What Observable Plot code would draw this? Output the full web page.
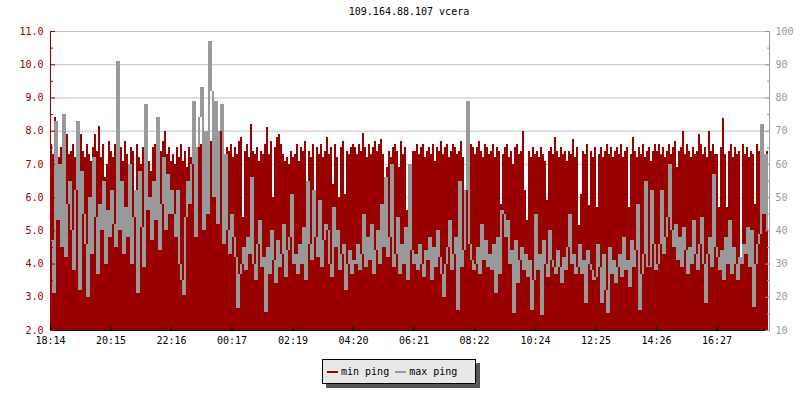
<!DOCTYPE html>
<html>
<head>
<meta charset="utf-8">
<script src="https://cdn.jsdelivr.net/npm/d3@7"></script>
<script src="https://cdn.jsdelivr.net/npm/@observablehq/plot@0.6"></script>
<style>
  body { margin: 0; background: #fff; font-family: "DejaVu Sans Mono", monospace; }
  #wrap { position: relative; width: 800px; height: 400px; overflow: hidden; }
  #title { position: absolute; left: 0; top: 0; width: 800px; height: 24px; line-height: 24px;
           padding-left: 18px; box-sizing: border-box; text-align: center; font-size: 10px; color: #000; }
  #chart { position: absolute; left: 0; top: 24px; }
  #legend { position: absolute; left: 322px; top: 359px; width: 152px; height: 23px;
            border: 1px solid #000; background: #e8e8e8; box-shadow: 4px 4px 0 #555;
            display: flex; align-items: center; font-size: 10px; color: #000; white-space: pre; }
  .sw { display: inline-block; width: 11px; height: 2px; }
</style>
</head>
<body>
<div id="wrap">
  <div id="title"></div>
  <div id="chart"></div>
  <div id="legend"></div>
</div>
<script>
const titleText = "109.164.88.107 vcera";
const seriesNames = ["min ping", "max ping"];
const seriesColors = ["#990000", "#999999"];

const startTime = "18:14";
const stepMinutes = 4;
const totalMinutes = 1438;

const xTickLabels = ["18:14","20:15","22:16","00:17","02:19","04:20","06:21","08:22","10:24","12:25","14:26","16:27"];
const leftTicks = [2, 3, 4, 5, 6, 7, 8, 9, 10, 11];
const leftHalfTicks = [2.5, 3.5, 4.5, 5.5, 6.5, 7.5, 8.5, 9.5, 10.5];
const rightTickLabels = [10, 20, 30, 40, 50, 60, 70, 80, 90, 100];

// min ping (left axis), one value per 4 minutes
const minPing = [
  7.6, 7.3, 8.4, 7.8, 7.2, 7.5, 6.3, 7.1, 7.9, 7.3, 7.4, 7.6, 7.2, 7.0, 7.5, 7.9, 7.4, 7.2, 7.6, 7.3, 7.1, 7.5, 7.9, 7.4, 8.15, 7.2, 7.6, 6.6, 7.0, 7.7, 7.4,
  7.2, 7.6, 7.3, 6.4, 7.5, 7.1, 7.7, 7.3, 6.9, 7.5, 7.4, 6.2, 7.6, 7.2, 7.0, 7.5, 7.3, 7.8, 7.1, 6.8, 7.5, 7.6, 7.2, 7.0, 7.4, 7.7, 8.0, 7.3, 7.5, 7.1,
  7.3, 7.0, 7.5, 7.2, 7.6, 7.1, 7.4, 6.9, 7.5, 7.2, 7.4, 7.6, 7.3, 8.1, 7.6, 7.0, 7.4, 7.2, 10.05, 7.7, 8.38, 7.3, 6.9, 7.5, 8.75, 7.4, 7.3, 7.5, 7.4, 7.6, 7.2,
  7.5, 7.3, 7.7, 7.8, 5.4, 7.4, 7.6, 7.2, 8.2, 7.4, 7.3, 7.5, 7.1, 7.4, 7.3, 7.6, 8.1, 7.3, 7.7, 6.0, 7.5, 7.8, 7.9, 7.6, 7.3, 7.1, 7.2, 7.0, 7.4, 7.2,
  7.3, 7.6, 7.1, 7.5, 7.4, 7.7, 6.5, 7.4, 7.2, 7.6, 6.0, 7.5, 7.3, 7.6, 7.2, 7.4, 7.8, 7.3, 7.5, 6.4, 7.6, 7.2, 6.0, 7.5, 7.7, 6.1, 7.4, 7.3, 7.5, 7.6,
  7.5, 7.3, 7.6, 7.4, 7.93, 7.5, 7.2, 7.6, 7.3, 7.5, 7.7, 7.4, 7.6, 7.75, 7.3, 6.15, 6.9, 7.4, 7.2, 7.5, 7.6, 7.4, 6.9, 7.7, 7.3, 7.5, 5.6, 5.3, 5.0, 7.4,
  7.4, 7.6, 7.3, 7.5, 7.6, 7.2, 7.4, 7.5, 7.3, 7.6, 7.1, 7.5, 7.4, 7.7, 7.3, 7.5, 7.6, 7.2, 7.4, 7.6, 7.5, 7.3, 7.4, 7.7, 7.2, 6.2, 8.08, 7.3, 7.6, 7.5,
  7.3, 7.5, 7.7, 7.4, 7.2, 7.6, 7.5, 7.3, 7.4, 7.6, 7.2, 7.5, 7.4, 5.8, 7.3, 7.5, 7.6, 7.2, 7.4, 7.0, 7.5, 7.6, 7.3, 7.4, 8.0, 6.2, 5.3, 7.4, 7.2, 7.5, 7.3,
  7.4, 7.2, 7.5, 7.3, 7.1, 5.9, 7.4, 7.5, 7.3, 7.8, 7.4, 7.2, 7.5, 7.3, 7.4, 7.1, 7.4, 7.3, 7.75, 7.2, 7.5, 5.15, 6.1, 7.4, 7.3, 7.6, 5.75, 7.4, 7.2, 7.5,
  5.7, 7.3, 7.5, 7.2, 7.4, 7.6, 7.3, 7.5, 7.2, 7.4, 7.5, 7.3, 7.6, 7.2, 7.4, 7.5, 5.7, 7.3, 7.8, 7.4, 7.2, 7.5, 7.3, 7.6, 7.2, 7.4, 7.5, 7.1, 7.4, 7.6,
  7.4, 7.6, 7.3, 7.5, 7.2, 7.4, 7.6, 7.3, 7.5, 7.7, 6.9, 7.4, 7.5, 7.99, 7.3, 7.6, 7.4, 7.2, 7.5, 7.3, 7.4, 7.9, 7.6, 7.3, 7.5, 7.2, 8.0, 7.4, 7.6, 7.3, 7.3,
  5.7, 7.5, 8.38, 7.3, 5.7, 7.4, 7.6, 7.2, 7.5, 7.3, 7.4, 4.0, 7.6, 7.3, 7.5, 7.2, 7.4, 7.3, 5.8, 7.6, 7.4, 7.2, 6.5, 7.3, 7.4
];

// max ping (right axis, ms), one value per 4 minutes
const maxPing = [
  37, 21, 73, 43, 60, 35, 75, 32, 48, 55, 40, 28, 52, 73, 22, 58, 45, 36, 20, 50, 33, 62, 44, 27, 48, 40, 55, 30, 46, 38, 52,
  42, 35, 91, 40, 55, 33, 47, 38, 60, 30, 44, 52, 21, 58, 41, 29, 78, 46, 50, 37, 55, 43, 74, 34, 48, 62, 40, 57, 45, 52,
  45, 38, 52, 30, 25, 20.5, 44, 55, 48, 60, 79, 38, 65, 74, 83, 40, 70, 45, 97, 82, 50, 79, 42, 70, 78, 36, 63, 40, 33, 45, 38,
  32, 16.6, 27, 30, 35, 28, 38, 33, 56, 30, 25, 36, 43, 29, 32, 15.5, 35, 27, 40, 31, 24, 37, 29, 33, 42, 26, 34, 38, 51, 30,
  33, 27, 36, 30, 41, 25, 55, 36, 31, 52, 38, 32, 49, 29, 37, 42, 40, 30, 26, 47, 35, 40, 28, 33, 36, 22, 30, 34, 27, 31,
  30, 36, 28, 33, 45, 29, 38, 31, 42, 27, 34, 40, 30, 48, 35, 56, 32, 38, 60, 29, 33, 44, 27, 36, 30, 41, 25, 60, 34, 30,
  33, 28, 36, 30, 26, 34, 31, 38, 25, 35, 29, 40, 32, 27, 20, 30, 35, 43, 28, 33, 38, 16, 55, 29, 34, 52, 79, 36, 31, 28,
  30, 35, 27, 42, 31, 37, 29, 33, 28, 36, 21, 38, 27, 46, 45, 38, 43, 30, 34, 15, 37, 24, 31, 35, 28, 33, 26, 31, 16, 25, 45,
  28, 33, 14.5, 37, 30, 26, 40, 31, 29, 27, 34, 29, 24, 32, 28, 35, 45, 30, 33, 27, 29, 36, 27, 31, 18, 34, 30, 28, 25, 26,
  36, 29, 18, 33, 22, 15, 35, 27, 31, 24, 29, 33, 26, 38, 28, 31, 23, 37, 29, 34, 48, 16, 27, 33, 55, 29, 29, 52, 36, 28,
  30, 36, 52, 33, 38, 44, 60, 40, 35, 42, 31, 38, 29, 41, 34, 27, 35, 30, 43, 33, 28, 36, 44, 30, 18, 33, 38, 29, 57, 35, 32,
  28, 34, 25, 38, 30, 43, 27, 35, 30, 25, 32, 30, 36, 33, 41, 29, 40, 17, 30, 36, 39, 72, 45, 63, 40
];

const red = seriesColors[0], gray = seriesColors[1];
const yMin = leftTicks[0], yMax = leftTicks[leftTicks.length - 1];
const rMin = rightTickLabels[0], rMax = rightTickLabels[rightTickLabels.length - 1];
const toLeft = v => yMin + (v - rMin) * (yMax - yMin) / (rMax - rMin);

const toMin = s => { const [h, m] = s.split(":").map(Number); return h * 60 + m; };
const m0 = toMin(startTime);
const xTickOffsets = xTickLabels.map(s => (toMin(s) - m0 + 1440) % 1440);

const n = Math.min(minPing.length, maxPing.length);
const minSpan = 0.035; // keep each gray column at least ~1px tall
const data = d3.range(n).map(i => {
  const cur = toLeft(maxPing[i]);
  const prev = i > 0 ? toLeft(maxPing[i - 1]) : cur;
  let lo = Math.min(prev, cur), hi = Math.max(prev, cur);
  if (hi - lo < minSpan) { lo = cur - minSpan / 2; hi = cur + minSpan / 2; }
  return { t0: i * stepMinutes, t1: (i + 1) * stepMinutes, min: minPing[i], lo, hi };
});

document.getElementById("title").textContent = titleText;

const chart = Plot.plot({
  width: 800,
  height: 326,
  marginLeft: 50,
  marginRight: 31,
  marginTop: 7,
  marginBottom: 20,
  style: { fontFamily: "DejaVu Sans Mono", fontSize: "10px", background: "white", overflow: "visible" },
  x: { domain: [0, totalMinutes], axis: null },
  y: { domain: [yMin, yMax], axis: null },
  marks: [
    Plot.gridY(leftTicks, { stroke: "#c0c0c0", strokeOpacity: 1 }),
    Plot.rect(data, { x1: "t0", x2: "t1", y1: yMin, y2: "min", fill: red, shapeRendering: "crispEdges" }),
    Plot.rect(data, { x1: "t0", x2: "t1", y1: "lo", y2: "hi", fill: gray, shapeRendering: "crispEdges" }),
    Plot.ruleY([yMin], { stroke: "black" }),
    Plot.ruleX([0], { stroke: red }),
    Plot.ruleX([totalMinutes], { stroke: gray }),
    Plot.axisY(leftTicks, { anchor: "left", tickSize: 0, tickPadding: 7, tickFormat: d => d.toFixed(1), fill: red, label: null }),
    Plot.axisY(leftTicks, { anchor: "left", tickSize: -5, fill: "none", stroke: red, label: null }),
    Plot.axisY(leftHalfTicks, { anchor: "left", tickSize: -3, fill: "none", stroke: red, label: null }),
    Plot.axisY(leftTicks, { anchor: "right", tickSize: 0, tickPadding: 6, tickFormat: d => String(rightTickLabels[leftTicks.indexOf(d)]), fill: gray, textAnchor: "start", label: null }),
    Plot.axisY(leftTicks, { anchor: "right", tickSize: -5, fill: "none", stroke: gray, label: null }),
    Plot.axisY(leftHalfTicks, { anchor: "right", tickSize: -3, fill: "none", stroke: gray, label: null }),
    Plot.axisX(xTickOffsets, { anchor: "bottom", tickSize: -5, fill: "none", stroke: "black", label: null }),
    Plot.axisX(xTickOffsets, { anchor: "bottom", tickSize: 0, tickPadding: 6, tickFormat: d => xTickLabels[xTickOffsets.indexOf(d)], fill: "black", label: null })
  ]
});
document.getElementById("chart").appendChild(chart);

const legend = document.getElementById("legend");
seriesNames.forEach((name, i) => {
  const sw = document.createElement("span");
  sw.className = "sw";
  sw.style.background = seriesColors[i];
  sw.style.marginLeft = i === 0 ? "4px" : "6px";
  legend.appendChild(sw);
  const tx = document.createElement("span");
  tx.textContent = name;
  tx.style.marginLeft = "3px";
  legend.appendChild(tx);
});
</script>
</body>
</html>
